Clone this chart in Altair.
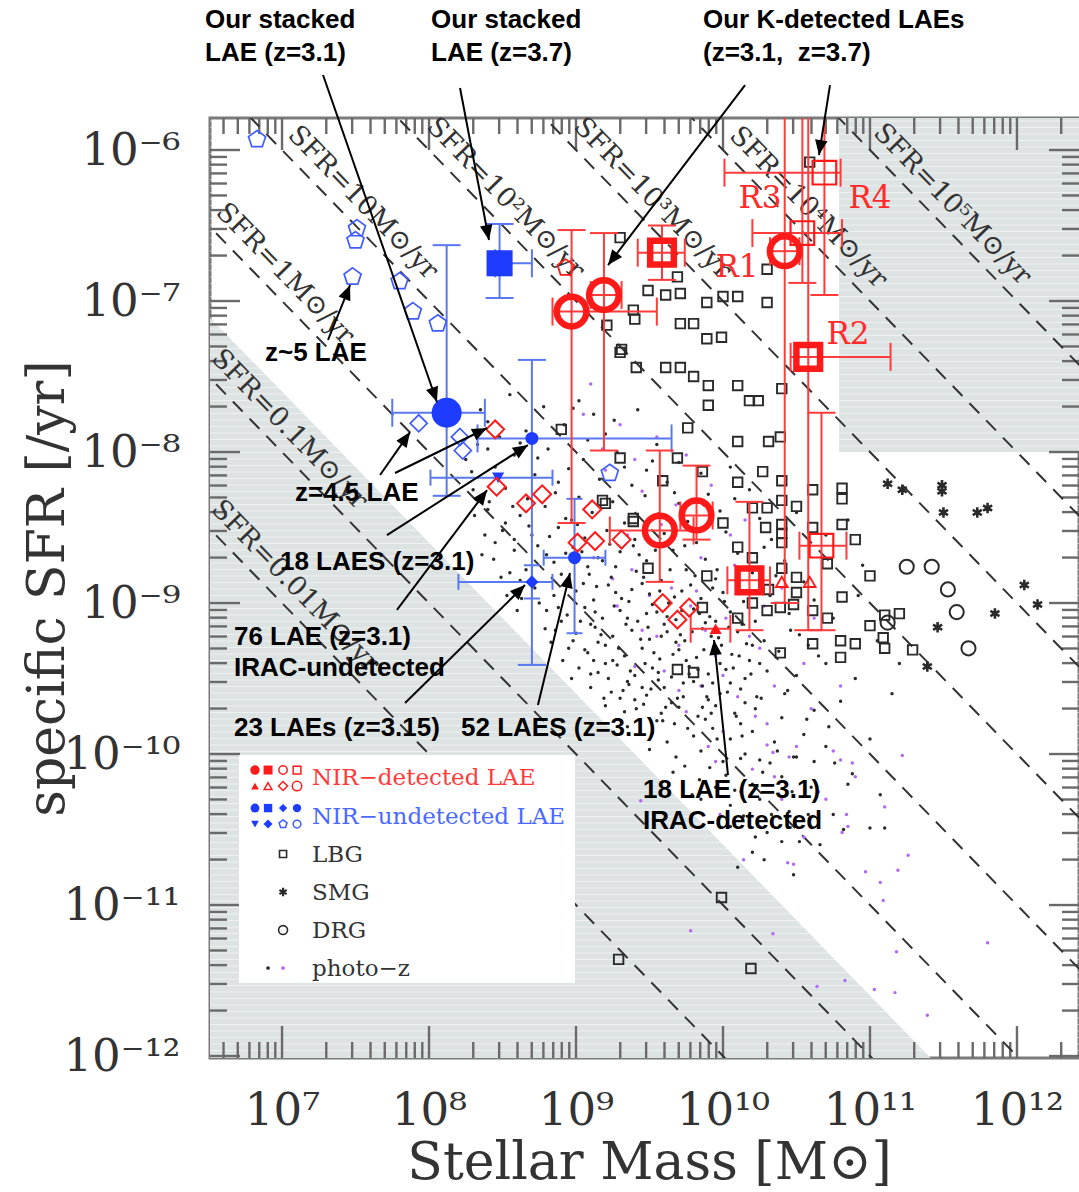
import math
import altair as alt
import pandas as pd

SERIF = "DejaVu Serif"
SANS = "Liberation Sans"

# Frame of the diagram, in log10 units
X_MIN, X_MAX = 6.51, 12.422      # log10 stellar mass
Y_MIN, Y_MAX = -12.013, -5.788   # log10 specific SFR
W, H = 869, 940
PX_X = W / (X_MAX - X_MIN)
PX_Y = H / (Y_MAX - Y_MIN)

# ---------------------------------------------------------------- data
# every point is (log10 M*, log10 sSFR)

# z~5 LAEs
Z5_LAE = [(6.83, -5.93), (7.51, -6.52), (7.50, -6.60), (7.48, -6.84), (7.80, -6.87),
          (7.89, -7.07), (8.06, -7.15), (9.23, -8.14)]
# z=4.5 LAEs
Z45_LAE = [(7.93, -7.81), (8.21, -7.90), (8.23, -7.99)]
# stacked LAEs
STACK_31 = [(8.12, -7.74)]
STACK_37 = [(8.48, -6.75)]
# literature LAE samples (NIR-undetected)
LAE18 = [(8.70, -7.91)]
LAE52 = [(8.99, -8.70)]
LAE23 = [(8.70, -8.86)]
LAE76 = [(8.47, -8.17)]
# (log M, log sSFR, log M lo, log M hi, log sSFR lo, log sSFR hi)
BLUE_ERR = [
    (8.12, -7.74, 7.75, 8.38, -8.29, -6.63),
    (8.48, -6.75, 8.45, 8.70, -6.98, -6.49),
    (8.70, -7.91, 8.33, 9.65, -9.41, -7.39),
    (8.99, -8.70, 8.78, 9.20, -9.20, -8.31),
    (8.70, -8.86, 8.20, 8.84, -8.97, -8.75),
    (8.47, -8.17, 8.01, 8.84, None, None),
]

# NIR-detected LAEs
K_LAE_31 = [(8.97, -7.07), (9.19, -6.96), (9.57, -8.52), (9.82, -8.42), (10.42, -6.67)]
K_LAE_37 = [(9.585, -6.68), (10.58, -7.37), (10.18, -8.85)]
K_LAE_R = [(10.54, -6.55), (10.69, -6.15), (10.67, -8.62)]
NIR_DIAMOND = [(8.45, -7.85), (8.46, -8.23), (8.66, -8.34), (8.77, -8.28), (9.11, -8.38),
               (9.01, -8.60), (9.13, -8.59), (9.31, -8.58), (9.59, -9.00), (9.69, -9.11),
               (9.77, -9.03)]
IRAC_LAE18 = [(9.95, -9.17)]
NIR_TRI = [(10.40, -8.86), (10.59, -8.86)]
NIR_PENT = [(8.93, -6.78)]
RED_ERR = [
    (8.97, -7.07, 8.84, 9.55, -8.47, -6.53),
    (9.19, -6.96, 9.10, 9.31, -7.99, -6.55),
    (9.585, -6.68, 9.42, 9.74, -6.86, -6.50),
    (9.57, -8.52, 9.23, 9.80, -8.86, -7.99),
    (9.82, -8.42, 9.71, 9.93, -8.58, -8.09),
    (10.42, -6.67, 10.32, 10.52, -9.00, -5.70),
    (10.54, -6.55, 10.20, 10.81, -6.88, -5.70),
    (10.69, -6.15, 10.01, 10.80, -6.96, -5.70),
    (10.58, -7.37, 10.46, 11.14, -9.18, -5.70),
    (10.67, -8.62, 10.52, 10.84, -9.18, -7.74),
    (10.18, -8.85, 10.03, 10.32, -9.18, -8.33),
    (9.95, -9.17, 9.78, 10.05, None, None),
]

# LBGs
LBG = [
    (9.30, -6.58), (9.69, -6.84), (9.49, -6.93), (9.61, -6.96), (9.71, -6.95), (9.89, -7.01),
    (10.00, -6.97), (10.10, -6.97), (10.30, -6.79), (10.30, -7.01), (10.59, -6.08), (9.39, -7.06),
    (9.40, -7.12), (9.21, -7.16), (9.71, -7.15), (9.80, -7.15), (9.89, -7.25), (9.99, -7.24),
    (9.30, -7.34), (9.41, -7.44), (9.61, -7.44), (9.71, -7.44), (9.80, -7.50), (9.90, -7.56),
    (10.10, -7.56), (10.40, -7.58), (9.90, -7.69), (10.18, -7.66), (10.24, -7.66), (9.76, -7.84),
    (10.10, -7.93), (10.31, -7.93), (10.39, -7.90), (9.30, -8.04), (9.69, -8.04), (9.86, -8.13),
    (10.27, -8.13), (10.10, -8.20), (10.40, -8.19), (10.61, -8.25), (10.81, -8.24), (10.81, -8.31),
    (9.59, -8.19), (9.18, -8.32), (10.00, -8.47), (10.20, -8.37), (10.30, -8.37), (10.40, -8.32),
    (10.50, -8.36), (10.29, -8.50), (10.40, -8.48), (10.61, -8.50), (10.81, -8.48), (10.40, -8.54),
    (10.40, -8.60), (10.10, -8.63), (10.20, -8.70), (10.90, -8.58), (10.40, -8.77), (10.50, -8.83),
    (10.50, -8.93), (10.71, -8.74), (10.31, -8.91), (10.20, -9.00), (10.30, -9.05), (10.39, -9.03),
    (10.48, -9.01), (10.61, -9.05), (10.81, -8.96), (11.00, -8.82), (10.10, -9.10), (10.71, -9.10),
    (9.49, -8.77), (9.89, -8.82), (9.39, -8.46), (9.86, -9.03), (11.10, -9.08), (11.20, -9.07),
    (11.00, -9.15), (10.80, -9.25), (10.90, -9.27), (11.09, -9.23), (11.10, -9.30), (11.29, -9.31),
    (10.80, -9.36), (10.39, -9.33), (10.61, -9.27), (9.69, -9.44), (9.80, -9.46), (9.99, -10.95),
    (9.29, -11.36), (10.19, -11.42), (9.31, -7.32), (8.90, -7.85), (9.20, -8.34), (9.39, -8.44),
]
# SMGs
SMG = [(11.12, -8.21), (11.22, -8.25), (11.49, -8.22), (11.49, -8.26), (11.50, -8.40),
       (11.73, -8.40), (11.80, -8.37), (12.05, -8.88), (12.14, -9.01), (11.85, -9.07),
       (11.46, -9.16), (11.39, -9.42)]
# DRGs
DRG = [(11.25, -8.76), (11.42, -8.76), (11.53, -8.91), (11.59, -9.06), (11.67, -9.30),
       (11.12, -9.13)]

# photo-z galaxies
PHOTOZ_BLACK = [
    (8.55, -7.62), (8.78, -7.70), (9.02, -7.66), (9.12, -7.75), (8.40, -7.80), (8.66, -7.86),
    (8.92, -7.82), (9.20, -7.88), (9.42, -7.72), (9.55, -7.95), (8.33, -7.95), (8.58, -8.02),
    (8.81, -7.98), (9.05, -8.05), (9.28, -8.00), (9.48, -8.12), (9.70, -8.07), (8.45, -8.10),
    (8.72, -8.15), (8.95, -8.11), (9.16, -8.18), (9.38, -8.22), (9.62, -8.20), (9.85, -8.14),
    (10.05, -8.10), (8.52, -8.24), (8.86, -8.27), (9.02, -8.30), (9.25, -8.33), (9.47, -8.29),
    (9.70, -8.34), (9.90, -8.28), (10.18, -8.25), (8.40, -8.38), (8.62, -8.42), (8.79, -8.36),
    (8.97, -8.45), (9.11, -8.40), (9.33, -8.47), (9.56, -8.41), (9.76, -8.46), (9.98, -8.39),
    (10.25, -8.44), (10.50, -8.40), (8.50, -8.52), (8.70, -8.55), (8.88, -8.50), (9.06, -8.57),
    (9.21, -8.52), (9.40, -8.58), (9.60, -8.54), (9.82, -8.60), (10.02, -8.53), (10.33, -8.58),
    (10.70, -8.55), (8.58, -8.65), (8.80, -8.68), (8.98, -8.63), (9.15, -8.70), (9.30, -8.66),
    (9.48, -8.72), (9.66, -8.65), (9.88, -8.71), (10.10, -8.67), (10.42, -8.72), (8.66, -8.78),
    (8.90, -8.81), (9.08, -8.76), (9.24, -8.83), (9.41, -8.79), (9.58, -8.85), (9.75, -8.78),
    (9.95, -8.84), (10.20, -8.80), (10.55, -8.86), (10.95, -8.75),
    (8.72, -8.90), (8.85, -8.95), (9.00, -8.92), (9.12, -8.98), (9.27, -8.93), (9.36, -8.99),
    (9.50, -8.94), (9.63, -9.00), (9.72, -8.92), (9.85, -8.97), (10.00, -8.93), (10.14, -8.99),
    (10.32, -8.95), (10.62, -8.98), (8.80, -9.05), (8.94, -9.08), (9.06, -9.03), (9.18, -9.10),
    (9.30, -9.05), (9.42, -9.12), (9.55, -9.06), (9.68, -9.11), (9.80, -9.04), (9.91, -9.09),
    (10.05, -9.06), (10.22, -9.12), (10.45, -9.07), (10.75, -9.10), (8.86, -9.18), (9.00, -9.20),
    (9.13, -9.16), (9.25, -9.22), (9.38, -9.18), (9.50, -9.24), (9.62, -9.19), (9.74, -9.25),
    (9.86, -9.17), (9.97, -9.23), (10.10, -9.19), (10.28, -9.25), (10.52, -9.21), (8.95, -9.30),
    (9.08, -9.33), (9.20, -9.28), (9.33, -9.35), (9.45, -9.30), (9.57, -9.37), (9.70, -9.31),
    (9.82, -9.36), (9.94, -9.29), (10.06, -9.34), (10.18, -9.38), (10.38, -9.32), (10.65, -9.35),
    (9.02, -9.43), (9.15, -9.46), (9.28, -9.41), (9.40, -9.48), (9.52, -9.43), (9.65, -9.49),
    (9.77, -9.42), (9.90, -9.47), (10.02, -9.44), (10.15, -9.50), (10.30, -9.45), (10.50, -9.48),
    (9.10, -9.56), (9.24, -9.59), (9.36, -9.54), (9.48, -9.61), (9.60, -9.56), (9.73, -9.62),
    (9.86, -9.55), (9.98, -9.60), (10.12, -9.57), (10.26, -9.63), (10.44, -9.58), (9.20, -9.68),
    (9.33, -9.72), (9.46, -9.67), (9.58, -9.73), (9.70, -9.69), (9.83, -9.75), (9.95, -9.68),
    (10.08, -9.73), (10.22, -9.70), (10.40, -9.76), (10.62, -9.71),
    (9.35, -9.82), (9.52, -9.86), (9.67, -9.80), (9.80, -9.88), (9.93, -9.83), (10.05, -9.90),
    (10.20, -9.85), (10.35, -9.92), (10.55, -9.87), (9.50, -9.97), (9.68, -10.02), (9.85, -9.98),
    (10.00, -10.05), (10.15, -10.00), (10.32, -10.06), (10.50, -10.02), (9.66, -10.12),
    (9.84, -10.17), (10.02, -10.14), (10.20, -10.20), (10.40, -10.15), (10.60, -10.22),
    (9.85, -10.30), (10.05, -10.34), (10.25, -10.30), (10.45, -10.38), (10.05, -10.48),
    (10.30, -10.52), (10.52, -10.58), (10.20, -10.65),
    (10.85, -8.45), (10.92, -8.95), (11.05, -9.25), (10.90, -9.50), (11.15, -9.60), (10.80, -9.65),
    (10.70, -9.95), (11.00, -9.90), (10.85, -10.20), (11.20, -9.40), (10.75, -10.40),
    (9.05, -8.87), (9.22, -8.88), (9.45, -8.87), (9.57, -8.92), (9.78, -8.88), (9.93, -8.90),
    (9.10, -9.14), (9.35, -9.10), (9.60, -9.14), (9.88, -9.13), (10.13, -9.14), (9.15, -9.26),
    (9.44, -9.24), (9.68, -9.26), (9.92, -9.22), (10.20, -9.28), (9.25, -9.38), (9.47, -9.40),
    (9.75, -9.38), (9.98, -9.40), (10.25, -9.40), (9.35, -9.52), (9.56, -9.51), (9.80, -9.52),
    (10.05, -9.53), (9.40, -9.64), (9.65, -9.66), (9.90, -9.64), (10.15, -9.66), (9.55, -9.78),
    (9.88, -9.77), (10.12, -9.80), (8.62, -8.85), (8.75, -9.00), (8.90, -9.12), (8.98, -9.25),
    (9.12, -9.38), (9.22, -9.50), (9.30, -9.63), (8.35, -7.72), (8.48, -7.90), (8.25, -8.05),
    (8.30, -8.25), (8.45, -8.60), (8.55, -8.80),
    (10.12, -10.03), (10.25, -10.04), (10.48, -10.02), (10.76, -10.06), (10.88, -10.13),
    (11.07, -10.27), (11.00, -10.49), (11.10, -10.49), (10.82, -10.50), (10.62, -10.05),
    (8.31, -8.42), (8.38, -8.55), (8.44, -8.71), (8.36, -8.68), (8.52, -8.47), (8.58, -8.58),
    (8.49, -8.83), (8.63, -8.97), (8.68, -8.49), (8.74, -8.62), (8.71, -8.88), (8.82, -8.56),
    (8.85, -8.73), (8.79, -9.17), (8.88, -9.03), (8.93, -8.67), (8.41, -8.33), (8.57, -8.36),
    (8.67, -8.31), (8.29, -8.13), (8.40, -7.98), (8.62, -7.94), (8.74, -8.04), (8.88, -8.20),
    (8.93, -8.44), (8.83, -9.26), (8.91, -9.38), (8.97, -9.50), (8.60, -9.05), (8.53, -8.95),
    (9.01, -8.48), (9.04, -8.66), (9.09, -8.81), (9.13, -9.06), (9.17, -9.21), (9.06, -9.31),
    (9.10, -9.47), (9.19, -9.63), (9.23, -8.61), (9.27, -8.76), (9.31, -8.97), (9.34, -9.14),
    (9.29, -9.30), (9.37, -9.45), (9.32, -9.58), (9.41, -9.70), (9.43, -8.68), (9.46, -8.83),
    (9.52, -9.01), (9.49, -9.16), (9.53, -9.33), (9.56, -9.46), (9.51, -9.57), (9.59, -9.78),
    (9.64, -8.78), (9.67, -8.96), (9.62, -9.09), (9.71, -9.21), (9.66, -9.34), (9.73, -9.53),
    (9.69, -9.63), (9.76, -9.83), (9.81, -8.82), (9.84, -9.07), (9.79, -9.19), (9.87, -9.31),
    (9.83, -9.44), (9.89, -9.62), (9.92, -9.73), (9.96, -9.90), (10.01, -8.99), (10.04, -9.16),
    (9.99, -9.28), (10.07, -9.43), (10.03, -9.59), (10.09, -9.75), (10.13, -9.88), (10.16, -9.27),
    (10.19, -9.47), (10.23, -9.62), (9.14, -8.89), (9.38, -8.91), (9.58, -9.22), (9.77, -9.47),
    (9.93, -9.53), (9.20, -9.40), (9.45, -9.56), (9.61, -9.69), (9.86, -9.69), (10.11, -9.35),
    (9.03, -9.12), (9.26, -9.02), (9.48, -9.07), (9.72, -9.05), (9.95, -9.12), (9.18, -8.72),
    (9.39, -8.62), (9.74, -8.62), (9.54, -8.65), (9.96, -8.78),
    (9.62, -9.92), (9.74, -10.08), (9.91, -10.09), (10.08, -10.24), (10.27, -10.12),
    (10.33, -10.40), (10.14, -10.41), (9.95, -10.22), (10.40, -10.58), (10.22, -10.55),
    (10.47, -10.25), (10.58, -10.40), (10.37, -9.98), (9.79, -10.27), (10.10, -10.75),
    (10.28, -10.70), (10.48, -10.80), (10.66, -10.60),
    (9.08, -7.92), (9.33, -8.10), (9.52, -8.06), (9.67, -8.27), (9.87, -8.35), (10.08, -8.31),
    (10.28, -8.63), (10.36, -8.82), (10.46, -9.18), (10.58, -9.28), (10.70, -9.40), (10.42, -9.60),
    (10.57, -9.77), (10.72, -9.82), (9.26, -7.79), (8.98, -7.71),
]
PHOTOZ_PURPLE = [
    (9.05, -7.75), (9.30, -7.82), (9.55, -7.90), (9.75, -8.02), (9.20, -8.12), (9.45, -8.26),
    (9.68, -8.35), (9.92, -8.22), (10.15, -8.45), (9.35, -8.55), (9.62, -8.62), (9.85, -8.70),
    (10.08, -8.75), (9.25, -8.84), (9.50, -8.95), (9.78, -9.02), (10.02, -9.10), (10.28, -9.02),
    (9.45, -9.18), (9.70, -9.28), (9.95, -9.35), (10.25, -9.30), (9.60, -9.45), (9.85, -9.55),
    (10.10, -9.62), (10.35, -9.55), (10.55, -9.40), (9.75, -9.72), (10.00, -9.85), (10.30, -9.80),
    (10.60, -9.70), (10.80, -9.55), (9.95, -10.05), (10.20, -10.10), (10.45, -10.02),
    (10.75, -9.98), (10.40, -10.30), (10.65, -10.25), (10.90, -10.15), (10.55, -10.55),
    (10.85, -10.48), (11.10, -10.35), (9.44, -10.31), (10.14, -10.70), (10.44, -10.72),
    (10.48, -10.73), (10.97, -10.78), (11.07, -10.85), (11.19, -10.77), (11.26, -10.67),
    (11.09, -10.97), (9.78, -11.17), (10.34, -11.19), (11.18, -11.31), (11.80, -11.25),
    (10.83, -11.50), (10.64, -11.54), (11.03, -11.56), (11.17, -11.58), (11.39, -11.73),
    (11.22, -10.01), (10.88, -10.06), (10.80, -10.04), (10.84, -10.40), (10.81, -10.52),
    (10.34, -9.99), (10.30, -9.94), (9.10, -7.55), (9.18, -7.98), (9.40, -8.05),
    (9.12, -8.70), (9.38, -8.78), (9.58, -8.48), (9.82, -8.92), (10.05, -8.55), (9.28, -9.02),
    (9.55, -9.22), (9.88, -9.18), (10.18, -9.22), (9.40, -9.42), (9.70, -9.58), (10.00, -9.48),
    (10.22, -9.75), (9.90, -9.95), (10.12, -10.25), (10.35, -10.15), (9.65, -8.90), (10.40, -8.90),
    (10.62, -9.10), (10.50, -9.95), (10.70, -10.30), (9.98, -10.40), (10.25, -10.48),
]

# lines of constant SFR [Msun/yr]
SFR_LEVELS = [-2, -1, 0, 1, 2, 3, 4, 5]
SFR_TEXT = ["SFR=0.01M⊙/yr", "SFR=0.1M⊙/yr", "SFR=1M⊙/yr", "SFR=10M⊙/yr",
            "SFR=10²M⊙/yr", "SFR=10³M⊙/yr", "SFR=10⁴M⊙/yr", "SFR=10⁵M⊙/yr"]
SFR_TEXT_AT = [7.09, 7.05, 7.02, 7.55, 8.52, 9.52, 10.58, 11.56]   # log M of label centre
SFR_TEXT_LIFT = 0.2
# shaded regions
LOW_SFR_EDGE = -0.6               # log SFR bounding the lower-left shading
BOX_X0, BOX_Y0 = 10.79, -8.0      # lower-left corner of the upper-right shading

# object labels
R_LABELS = [("R3", 10.252, -6.325), ("R4", 11.0, -6.325), ("R1", 10.095, -6.781), ("R2", 10.85, -7.225)]
NOTES = [
    ("Our stacked", 6.476, -5.139), ("LAE (z=3.1)", 6.476, -5.358),
    ("Our stacked", 8.014, -5.139), ("LAE (z=3.7)", 8.014, -5.358),
    ("Our K-detected LAEs", 9.864, -5.139), ("(z=3.1,\u00a0 z=3.7)", 9.864, -5.358),
    ("z~5 LAE", 6.884, -7.344), ("z=4.5 LAE", 7.088, -8.272),
    ("18 LAES (z=3.1)", 6.986, -8.728),
    ("76 LAE (z=3.1)", 6.673, -9.225), ("IRAC-undetected", 6.673, -9.430),
    ("23 LAEs (z=3.15)", 6.673, -9.828), ("52 LAES (z=3.1)", 8.218, -9.828),
    ("18 LAE (z=3.1)", 9.456, -10.238), ("IRAC-detected", 9.456, -10.444),
]
ARROWS = [
    (7.279, -5.503, 8.054, -7.669), (8.211, -5.589, 8.408, -6.596),
    (10.150, -5.570, 9.218, -6.762), (10.728, -5.570, 10.653, -6.033),
    (7.313, -7.258, 7.463, -6.894), (7.667, -8.152, 7.871, -7.868),
    (7.769, -8.139, 8.395, -7.841), (7.714, -8.550, 8.673, -7.954),
    (7.782, -9.046, 8.395, -8.252), (7.837, -9.662, 8.653, -8.881),
    (8.741, -9.675, 8.959, -8.801), (10.034, -10.139, 9.939, -9.245),
]

# ---------------------------------------------------------------- styles
RED = "#ff1a1a"
RED_BAR = "#ff3b3b"
BLUE = "#1e3cff"
BLUE_OPEN = "#3f5cff"
BLUE_BAR = "#5a78f2"
INK = "#2a2a2a"
PURPLE = "#b368f5"
GREY = "#dde2e2"

PENTAGON = "M0,-1L0.951,-0.309L0.588,0.809L-0.588,0.809L-0.951,-0.309Z"
ASTERISK = "M0,-1L0,1M-0.866,-0.5L0.866,0.5M-0.866,0.5L0.866,-0.5"
HCAP = "M-1,0L1,0"
VCAP = "M0,-1L0,1"
ARROW_HEAD = "M0,0L-0.42,1L0.42,1Z"

L = lambda v: 10.0 ** v
SUP = str.maketrans("0123456789-", "⁰¹²³⁴⁵⁶⁷⁸⁹⁻")


def label_expr(exps):
    e = "round(log(datum.value)/LN10)"
    s = "''"
    for k in exps:
        s = f"({e}=={k} ? '10{str(k).translate(SUP)}' : {s})"
    return s


xs = alt.Scale(type="log", domain=[L(X_MIN), L(X_MAX)], nice=False)
ys = alt.Scale(type="log", domain=[L(Y_MIN), L(Y_MAX)], nice=False)
x_axis = alt.Axis(
    values=[L(k) for k in range(7, 13)], labelExpr=label_expr(range(7, 13)),
    ticks=False, tickSize=0, domain=False, grid=False, labelFlush=False, labelOverlap=False,
    labelFont=SERIF, labelFontSize=45, labelColor="#333", labelPadding=30,
    title="Stellar Mass [M⊙]", titleFont=SERIF, titleFontSize=52, titleFontWeight="normal",
    titleColor="#333", titleX=439, titleY=120, titleAlign="center", titleBaseline="alphabetic",
)
y_axis = alt.Axis(
    values=[L(k) for k in range(-12, -5)], labelExpr=label_expr(range(-12, -5)),
    ticks=False, tickSize=0, domain=False, grid=False, labelFlush=False, labelOverlap=False,
    labelFont=SERIF, labelFontSize=45, labelColor="#333", labelPadding=30,
    title="specific SFR [/yr]", titleFont=SERIF, titleFontSize=52, titleFontWeight="normal",
    titleColor="#333", titleX=-163, titleY=470, titleAngle=270, titleAlign="center",
    titleBaseline="middle",
)


def X(f="x"):
    return alt.X(f"{f}:Q", scale=xs, axis=x_axis)


def Y(f="y"):
    return alt.Y(f"{f}:Q", scale=ys, axis=y_axis)


def frame(pairs, **extra):
    d = pd.DataFrame({"x": [L(a) for a, b in pairs], "y": [L(b) for a, b in pairs]})
    for k, v in extra.items():
        d[k] = v
    return d


layers = []

# shaded regions
tri = pd.DataFrame({"x": [L(6.3), L(11.7)],
                    "y": [L(LOW_SFR_EDGE - 6.3), L(LOW_SFR_EDGE - 11.7)],
                    "y2": [L(Y_MIN - 0.5)] * 2})
layers.append(alt.Chart(tri).mark_area(color=GREY, clip=True).encode(
    x=X(), y=Y(), y2=alt.Y2("y2:Q")))
box = pd.DataFrame({"x": [L(BOX_X0)], "x2": [L(X_MAX + 0.2)], "y": [L(BOX_Y0)], "y2": [L(Y_MAX + 0.2)]})
layers.append(alt.Chart(box).mark_rect(color=GREY, clip=True).encode(
    x=X(), x2=alt.X2("x2:Q"), y=Y(), y2=alt.Y2("y2:Q")))
# faint scan striping inside the shading
stripes = pd.DataFrame({"y": [L(Y_MAX - (3 + 6.5 * k) / PX_Y) for k in range(int(H / 6.5))]})
layers.append(alt.Chart(stripes).mark_rule(color="white", strokeWidth=1.2, opacity=0.5).encode(
    y=Y(), x=alt.value(0), x2=alt.value(W)))

# inward ticks on all four sides
maj_x = [L(k) for k in range(7, 13)]
min_x = [m * L(k) for k in range(6, 13) for m in range(2, 10)
         if X_MIN < math.log10(m * L(k)) < X_MAX]
maj_y = [L(k) for k in range(-12, -5)]
min_y = [m * L(k) for k in range(-13, -5) for m in range(2, 10)
         if Y_MIN < math.log10(m * L(k)) < Y_MAX]
TICK = dict(color="#6a6a6a", strokeWidth=2.4)
for vals, ln in ((maj_x, 32), (min_x, 16)):
    d = pd.DataFrame({"x": vals})
    layers.append(alt.Chart(d).mark_rule(**TICK).encode(x=X(), y=alt.value(H), y2=alt.value(H - ln)))
    layers.append(alt.Chart(d).mark_rule(**TICK).encode(x=X(), y=alt.value(0), y2=alt.value(ln)))
for vals, ln in ((maj_y, 30), (min_y, 17)):
    d = pd.DataFrame({"y": vals})
    layers.append(alt.Chart(d).mark_rule(**TICK).encode(y=Y(), x=alt.value(0), x2=alt.value(ln)))
    layers.append(alt.Chart(d).mark_rule(**TICK).encode(y=Y(), x=alt.value(W), x2=alt.value(W - ln)))

# constant-SFR lines and their labels
sfr = pd.DataFrame({
    "x": [L(X_MIN - 0.3)] * len(SFR_LEVELS), "x2": [L(X_MAX + 0.3)] * len(SFR_LEVELS),
    "y": [L(s - X_MIN + 0.3) for s in SFR_LEVELS], "y2": [L(s - X_MAX - 0.3) for s in SFR_LEVELS]})
layers.append(alt.Chart(sfr).mark_rule(color="#333", strokeWidth=2, strokeDash=[14, 10], clip=True).encode(
    x=X(), x2=alt.X2("x2:Q"), y=Y(), y2=alt.Y2("y2:Q")))
sfr_lab = pd.DataFrame({
    "x": [L(m) for m in SFR_TEXT_AT],
    "y": [L(s - m + SFR_TEXT_LIFT) for s, m in zip(SFR_LEVELS, SFR_TEXT_AT)],
    "t": SFR_TEXT})
slope = math.degrees(math.atan(PX_Y / PX_X))
layers.append(alt.Chart(sfr_lab).mark_text(
    angle=slope, font=SERIF, fontSize=27, color="#333", align="center", baseline="middle").encode(
    x=X(), y=Y(), text="t:N"))

# legend panel
leg_box = pd.DataFrame({"x": [L(6.707)], "x2": [L(8.993)], "y": [L(-11.517)], "y2": [L(-10.007)]})
layers.append(alt.Chart(leg_box).mark_rect(color="white").encode(
    x=X(), x2=alt.X2("x2:Q"), y=Y(), y2=alt.Y2("y2:Q")))
LEG_X = [6.816, 6.905, 7.007, 7.102]
leg_filled = [
    (LEG_X[0], -10.106, "circle", RED, 90), (LEG_X[1], -10.106, "square", RED, 80),
    (LEG_X[0], -10.212, "triangle-up", RED, 60),
    (LEG_X[0], -10.358, "circle", BLUE, 80), (LEG_X[1], -10.358, "square", BLUE, 70),
    (LEG_X[2], -10.358, "diamond", BLUE, 70), (LEG_X[3], -10.358, "circle", BLUE, 70),
    (LEG_X[0], -10.464, "triangle-down", BLUE, 60), (LEG_X[1], -10.464, "diamond", BLUE, 80),
    (6.905, -11.417, "circle", INK, 14), (7.007, -11.417, "circle", PURPLE, 14),
]
leg_open = [
    (LEG_X[2], -10.106, "circle", RED, 70, 1.5), (LEG_X[3], -10.106, "square", RED, 60, 1.5),
    (LEG_X[1], -10.212, "triangle-up", RED, 60, 1.5), (LEG_X[2], -10.212, "diamond", RED, 80, 1.5),
    (LEG_X[3], -10.212, "circle", RED, 90, 1.5),
    (LEG_X[2], -10.464, PENTAGON, BLUE_OPEN, 70, 1.5), (LEG_X[3], -10.464, "circle", BLUE_OPEN, 60, 1.5),
    (7.007, -10.662, "square", INK, 50, 1.6), (7.007, -10.914, ASTERISK, INK, 70, 2.2),
    (7.007, -11.166, "circle", INK, 80, 1.6),
]
layers.append(alt.Chart(pd.DataFrame(
    [dict(x=L(a), y=L(b), shape=s, color=c, size=z) for a, b, s, c, z in leg_filled])).mark_point(
    filled=True, opacity=1).encode(
    x=X(), y=Y(), shape=alt.Shape("shape:N", scale=None), color=alt.Color("color:N", scale=None),
    size=alt.Size("size:Q", scale=None)))
layers.append(alt.Chart(pd.DataFrame(
    [dict(x=L(a), y=L(b), shape=s, color=c, size=z, sw=w) for a, b, s, c, z, w in leg_open])).mark_point(
    filled=False, opacity=1).encode(
    x=X(), y=Y(), shape=alt.Shape("shape:N", scale=None), color=alt.Color("color:N", scale=None),
    size=alt.Size("size:Q", scale=None), strokeWidth=alt.StrokeWidth("sw:Q", scale=None)))
leg_text = pd.DataFrame({
    "x": [L(7.204)] * 6,
    "y": [L(v) for v in (-10.159, -10.417, -10.669, -10.921, -11.172, -11.424)],
    "t": ["NIR−detected LAE", "NIR−undetected LAE", "LBG", "SMG", "DRG", "photo−z"],
    "c": ["#ff3a3a", "#4a68ff", "#333", "#333", "#333", "#333"]})
layers.append(alt.Chart(leg_text).mark_text(
    font=SERIF, fontSize=23, align="left", baseline="middle").encode(
    x=X(), y=Y(), text="t:N", color=alt.Color("c:N", scale=None)))

# field populations
layers.append(alt.Chart(frame(PHOTOZ_PURPLE)).mark_circle(color=PURPLE, size=12, opacity=1).encode(x=X(), y=Y()))
layers.append(alt.Chart(frame(PHOTOZ_BLACK)).mark_circle(color=INK, size=12, opacity=1).encode(x=X(), y=Y()))
layers.append(alt.Chart(frame(LBG)).mark_point(shape="square", color=INK, size=90, strokeWidth=1.9, opacity=1).encode(x=X(), y=Y()))
layers.append(alt.Chart(frame(SMG)).mark_point(shape=ASTERISK, color=INK, size=110, strokeWidth=2.6, opacity=1).encode(x=X(), y=Y()))
layers.append(alt.Chart(frame(DRG)).mark_point(shape="circle", color=INK, size=200, strokeWidth=2, opacity=1).encode(x=X(), y=Y()))


# error bars
def error_layers(entries, color, caps):
    bars, ends = [], []
    for (lm, ls, xlo, xhi, ylo, yhi), cap in zip(entries, caps):
        bars.append(dict(x=L(xlo), x2=L(xhi), y=L(ls), y2=L(ls)))
        ends.append(dict(x=L(xlo), y=L(ls), shape=VCAP, size=cap ** 2))
        ends.append(dict(x=L(xhi), y=L(ls), shape=VCAP, size=cap ** 2))
        if ylo is not None:
            bars.append(dict(x=L(lm), x2=L(lm), y=L(ylo), y2=L(yhi)))
            ends.append(dict(x=L(lm), y=L(ylo), shape=HCAP, size=cap ** 2))
            ends.append(dict(x=L(lm), y=L(yhi), shape=HCAP, size=cap ** 2))
    return [
        alt.Chart(pd.DataFrame(bars)).mark_rule(color=color, strokeWidth=2, clip=True).encode(
            x=X(), x2=alt.X2("x2:Q"), y=Y(), y2=alt.Y2("y2:Q")),
        alt.Chart(pd.DataFrame(ends)).mark_point(color=color, filled=False, strokeWidth=2,
                                                 opacity=1, clip=True).encode(
            x=X(), y=Y(), shape=alt.Shape("shape:N", scale=None), size=alt.Size("size:Q", scale=None)),
    ]


layers += error_layers(BLUE_ERR, BLUE_BAR, [28, 28, 28, 16, 16, 16])
layers += error_layers(RED_ERR, RED_BAR, [28] * len(RED_ERR))

# LAE symbols
def sym(pairs, shape, color, size, filled, sw=2.0):
    return alt.Chart(frame(pairs)).mark_point(
        shape=shape, color=color, size=size, filled=filled, strokeWidth=sw, opacity=1).encode(x=X(), y=Y())


layers += [
    sym(Z5_LAE, PENTAGON, BLUE_OPEN, 320, False, 1.7),
    sym(Z45_LAE, "diamond", BLUE_OPEN, 290, False, 1.7),
    sym(STACK_31, "circle", BLUE, 900, True),
    sym(STACK_37, "square", BLUE, 680, True),
    sym(LAE18, "circle", BLUE, 170, True),
    sym(LAE52, "circle", BLUE, 170, True),
    sym(LAE23, "diamond", BLUE, 170, True),
    sym(LAE76, "triangle-down", BLUE, 150, True),
    sym(NIR_DIAMOND, "diamond", RED, 320, False, 2.0),
    sym(NIR_PENT, PENTAGON, RED, 300, False, 1.8),
    sym(NIR_TRI, "triangle-up", RED, 140, False, 1.8),
    sym(IRAC_LAE18, "triangle-up", RED, 150, True),
    sym(K_LAE_R, "square", RED, 560, False, 2.2),
    sym(K_LAE_37, "square", RED, 560, False, 6.5),
    sym(K_LAE_31, "circle", RED, 880, False, 6.5),
]

# R labels
layers.append(alt.Chart(pd.DataFrame(
    {"x": [L(r[1]) for r in R_LABELS], "y": [L(r[2]) for r in R_LABELS], "t": [r[0] for r in R_LABELS]})
).mark_text(font=SERIF, fontSize=31, color="#ff2a2a", align="center", baseline="middle").encode(
    x=X(), y=Y(), text="t:N"))

# annotations with arrows
arr = pd.DataFrame([dict(x=L(a), y=L(b), x2=L(c), y2=L(d)) for a, b, c, d in ARROWS])
layers.append(alt.Chart(arr).mark_rule(color="black", strokeWidth=2).encode(
    x=X(), x2=alt.X2("x2:Q"), y=Y(), y2=alt.Y2("y2:Q")))
heads = pd.DataFrame([dict(
    x=L(c), y=L(d),
    ang=math.degrees(math.atan2((c - a) * PX_X, (d - b) * PX_Y)) % 360) for a, b, c, d in ARROWS])
layers.append(alt.Chart(heads).mark_point(shape=ARROW_HEAD, filled=True, color="black",
                                          size=900, opacity=1).encode(
    x=X(), y=Y(), angle=alt.Angle("ang:Q", scale=None)))
notes = pd.DataFrame({"x": [L(n[1]) for n in NOTES], "y": [L(n[2]) for n in NOTES], "t": [n[0] for n in NOTES]})
layers.append(alt.Chart(notes).mark_text(
    font=SANS, fontSize=26, fontWeight="bold", color="black", align="left", baseline="middle").encode(
    x=X(), y=Y(), text="t:N"))

chart = alt.layer(*layers).properties(
    width=W, height=H,
    autosize=alt.AutoSizeParams(type="none"),
    padding={"left": 210, "top": 118, "right": 0, "bottom": 134},
    background="white",
).configure_view(stroke="#7a7a7a", strokeWidth=3)

chart.save("out.html", embed_options={"renderer": "svg", "actions": False})
